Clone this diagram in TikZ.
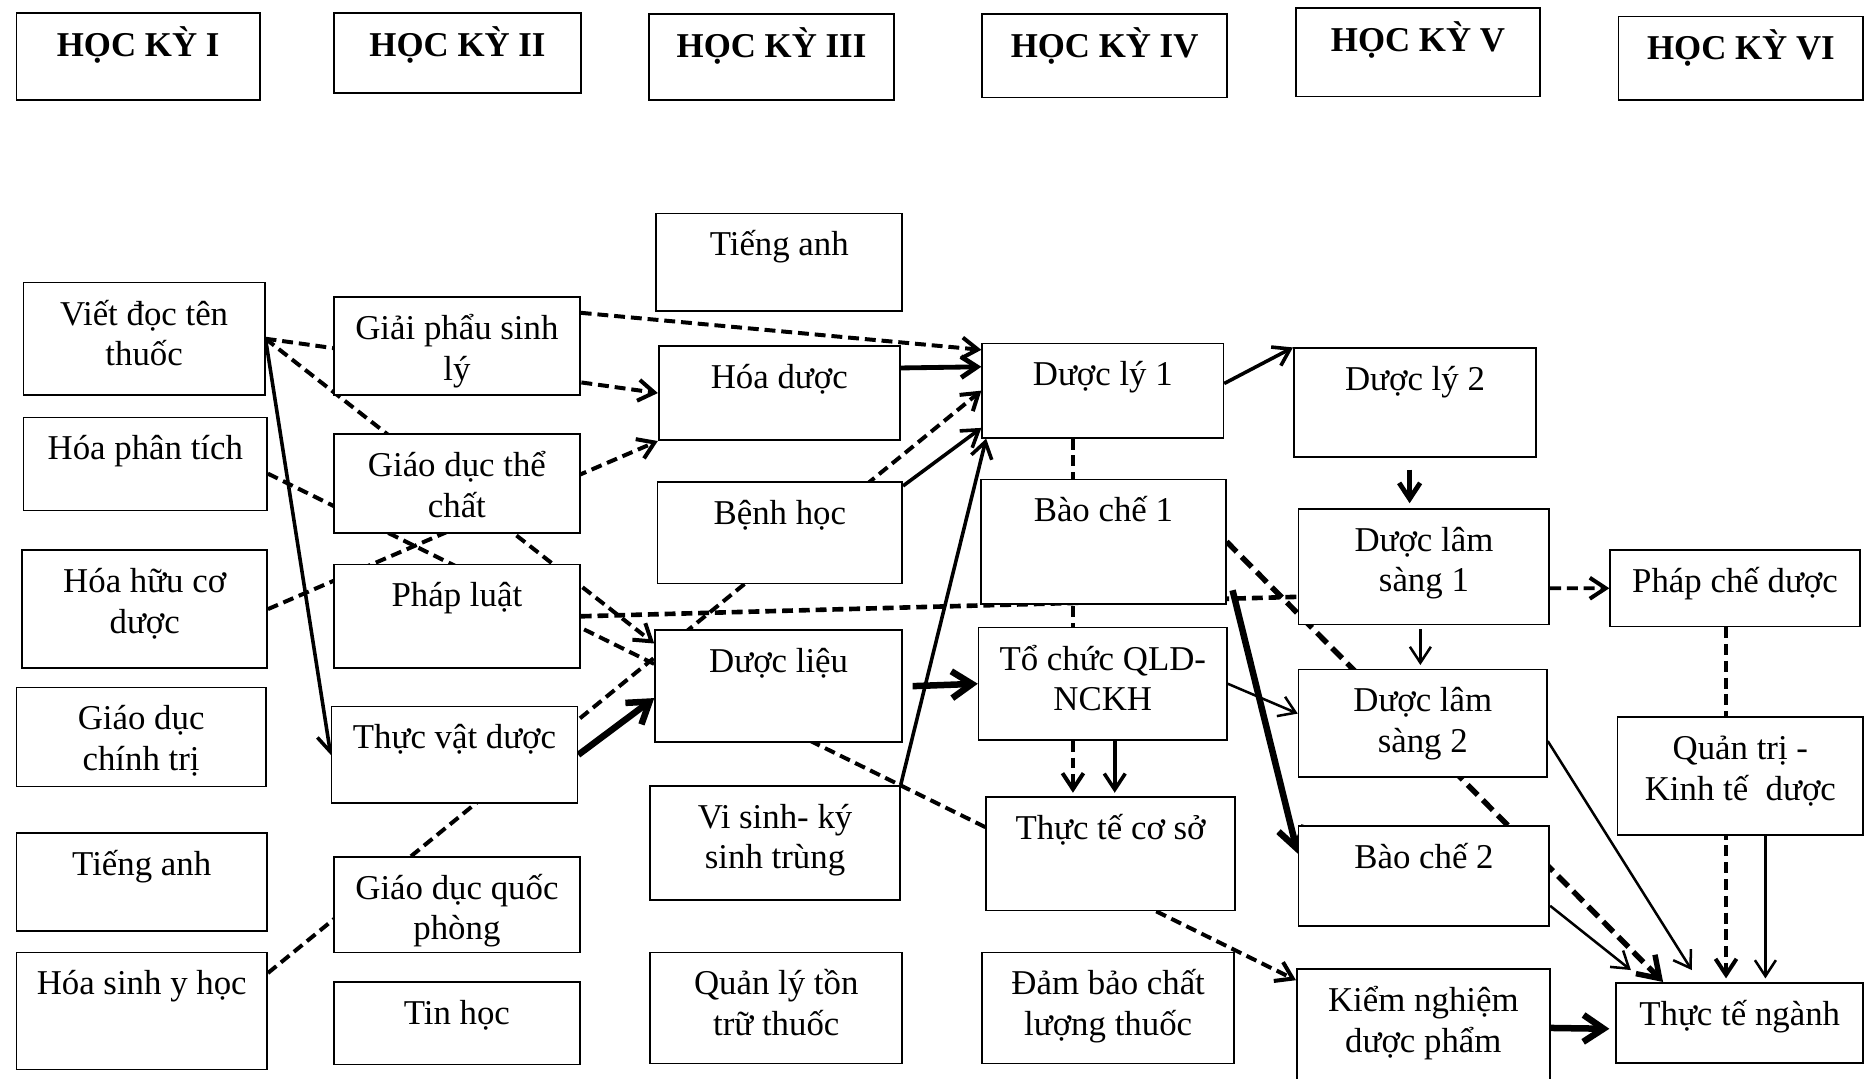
\documentclass[tikz,border=0pt]{standalone}
\usepackage{fontspec}
\setmainfont{Liberation Serif}
\usetikzlibrary{arrows.meta,calc,backgrounds}
\setlength{\lineskiplimit}{-9pt}

\begin{document}
\begin{tikzpicture}[
    box/.style={draw, line width=0.4pt, fill=white, anchor=north west, align=center,
        inner sep=0pt, text height=0.355cm, font=\fontsize{8.3}{9.7}\selectfont},
    two/.style={text height=0.696cm},
    head/.style={box, text height=0.365cm, font=\fontsize{8.3}{9.7}\selectfont\bfseries},
    dsh/.style={line width=0.95pt, dash pattern=on 2.6pt off 1.4pt},
    dshthk/.style={line width=1.3pt, dash pattern=on 3.4pt off 1.7pt},
    thn/.style={line width=0.6pt},
    sld/.style={line width=0.85pt},
    med/.style={line width=1.15pt},
    thk/.style={line width=1.55pt},
    arr/.style={-{Straight Barb[length=3.8pt,width=5pt]}},
    bigarr/.style={-{Straight Barb[length=4.8pt,width=6.4pt]}},
]
\useasboundingbox (0,0) rectangle (15.68,-9.03);

% Semester headers
\node[head, minimum width=2.04cm, text depth=0.365cm] (hk1) at (0.13,-0.10) {HỌC KỲ I};
\node[head, minimum width=2.07cm, text depth=0.305cm] (hk2) at (2.79,-0.10) {HỌC KỲ II};
\node[head, minimum width=2.05cm, text depth=0.355cm] (hk3) at (5.43,-0.11) {HỌC KỲ III};
\node[head, minimum width=2.05cm, text depth=0.335cm] (hk4) at (8.22,-0.11) {HỌC KỲ IV};
\node[head, minimum width=2.04cm, text depth=0.375cm] (hk5) at (10.85,-0.06) {HỌC KỲ V};
\node[head, minimum width=2.05cm, text depth=0.335cm] (hk6) at (13.55,-0.13) {HỌC KỲ VI};

% Semester I
\node[box, two, minimum width=2.02cm, text depth=0.244cm] (vdt) at (0.19,-2.36) {Viết đọc tên\\thuốc};
\node[box, minimum width=2.04cm, text depth=0.425cm] (hpt) at (0.19,-3.49) {Hóa phân tích};
\node[box, two, minimum width=2.05cm, text depth=0.294cm] (hhc) at (0.18,-4.60) {Hóa hữu cơ\\dược};
\node[box, two, minimum width=2.09cm, text depth=0.134cm] (gdct) at (0.13,-5.75) {Giáo dục\\chính trị};
\node[box, minimum width=2.10cm, text depth=0.465cm] (ta1) at (0.13,-6.97) {Tiếng anh};
\node[box, minimum width=2.10cm, text depth=0.625cm] (hsyh) at (0.13,-7.97) {Hóa sinh y học};

% Semester II
\node[box, two, minimum width=2.06cm, text depth=0.124cm] (gpsl) at (2.79,-2.48) {Giải phẩu sinh\\lý};
\node[box, two, minimum width=2.06cm, text depth=0.134cm] (gdtc) at (2.79,-3.63) {Giáo dục thể\\chất};
\node[box, minimum width=2.06cm, text depth=0.515cm] (pl) at (2.79,-4.72) {Pháp luật};
\node[box, minimum width=2.06cm, text depth=0.455cm] (tvd) at (2.77,-5.91) {Thực vật dược};
\node[box, two, minimum width=2.06cm, text depth=0.104cm] (gdqp) at (2.79,-7.17) {Giáo dục quốc\\phòng};
\node[box, minimum width=2.06cm, text depth=0.335cm] (tin) at (2.79,-8.22) {Tin học};

% Semester III
\node[box, minimum width=2.06cm, text depth=0.465cm] (ta3) at (5.49,-1.78) {Tiếng anh};
\node[box, minimum width=2.02cm, text depth=0.435cm] (hd) at (5.51,-2.89) {Hóa dược};
\node[box, minimum width=2.05cm, text depth=0.495cm] (bh) at (5.50,-4.03) {Bệnh học};
\node[box, minimum width=2.07cm, text depth=0.585cm] (dl) at (5.48,-5.27) {Dược liệu};
\node[box, two, minimum width=2.09cm, text depth=0.259cm] (vs) at (5.44,-6.575) {Vi sinh- ký\\sinh trùng};
\node[box, two, minimum width=2.11cm, text depth=0.234cm] (ql) at (5.44,-7.97) {Quản lý tồn\\trữ thuốc};

% Semester IV
\node[box, minimum width=2.02cm, text depth=0.435cm] (dl1) at (8.22,-2.87) {Dược lý 1};
\node[box, minimum width=2.05cm, text depth=0.685cm] (bc1) at (8.21,-4.01) {Bào chế 1};
\node[box, two, minimum width=2.08cm, text depth=0.244cm] (tc) at (8.19,-5.25) {Tổ chức QLD-\\NCKH};
\node[box, minimum width=2.09cm, text depth=0.595cm] (ttcs) at (8.25,-6.67) {Thực tế cơ sở};
\node[box, two, minimum width=2.11cm, text depth=0.234cm] (db) at (8.22,-7.97) {Đảm bảo chất\\lượng thuốc};

% Semester V
\node[box, minimum width=2.03cm, text depth=0.555cm] (dl2) at (10.83,-2.91) {Dược lý 2};
\node[box, two, minimum width=2.10cm, text depth=0.274cm] (dls1) at (10.87,-4.255) {Dược lâm\\sàng 1};
\node[box, two, minimum width=2.08cm, text depth=0.204cm] (dls2) at (10.87,-5.60) {Dược lâm\\sàng 2};
\node[box, minimum width=2.10cm, text depth=0.485cm] (bc2) at (10.87,-6.91) {Bào chế 2};
\node[box, two, minimum width=2.12cm, text depth=0.304cm] (kn) at (10.855,-8.11) {Kiểm nghiệm\\dược phẩm};

% Semester VI
\node[box, minimum width=2.09cm, text depth=0.285cm] (pcd) at (13.48,-4.60) {Pháp chế dược};
\node[box, two, minimum width=2.06cm, text depth=0.289cm] (qt) at (13.54,-6.00) {Quản trị -\\Kinh tế~ dược};
\node[box, minimum width=2.07cm, text depth=0.315cm] (ttn) at (13.53,-8.225) {Thực tế ngành};

\begin{scope}[on background layer]
% from semester I
\draw[dsh, arr] (vdt.east) -- (hd.west);
\draw[dsh, arr] (vdt.east) -- ([yshift=-0.12cm]dl.north west);
\draw[sld, arr] (vdt.east) -- (tvd.west);
\draw[dsh, arr] ([yshift=-0.08cm]hpt.east) -- ([yshift=-0.1cm]kn.north west);
\draw[dsh, arr] (hhc.east) -- (hd.south west);
\draw[dsh, arr] ([yshift=-0.18cm]hsyh.north east) -- (dl1.west);
% from semester II
\draw[dsh, arr] ([yshift=-0.14cm]gpsl.north east) -- ([yshift=-0.06cm]dl1.north west);
\draw[dsh, line width=1.1pt] (pl.east) -- ([yshift=0.24cm]dls1.south west);
\draw[thk, bigarr] (tvd.east) -- ([yshift=-0.1cm]dl.west);
% from semester III
\draw[med, arr] ([yshift=0.21cm]hd.east) -- ([yshift=0.2cm]dl1.west);
\draw[sld, arr] ([yshift=-0.04cm]bh.north east) -- ([yshift=0.09cm]dl1.south west);
\draw[sld, arr] (vs.north east) -- ([xshift=0.04cm]dl1.south west);
\draw[thk, bigarr] ([xshift=0.08cm]dl.east) -- (tc.west);
% from semester IV
\draw[dsh, arr] ($(dl1.south)+(-0.25,0)$) -- ($(dl1.south |- ttcs.north)+(-0.25,0.03)$);
\draw[sld, arr] ($(tc.south)+(0.1,0)$) -- ($(tc.south |- ttcs.north)+(0.1,0.03)$);
\draw[sld, arr] ([yshift=0.06cm]dl1.east) -- (dl2.north west);
\draw[thn, arr] (tc.east) -- ([yshift=0.08cm]dls2.west);
\draw[thk, bigarr] ([xshift=0.05cm,yshift=0.12cm]bc1.south east) -- ([yshift=-0.24cm]bc2.north west);
\draw[dshthk, bigarr] (bc1.east) -- ([xshift=0.4cm]ttn.north west);
% from semester V
\draw[med, arr] ($(dl2.south)+(-0.045,-0.1)$) -- ($(dl2.south |- dls1.north)+(-0.045,0.04)$);
\draw[thn, arr] ($(dls1.south)+(-0.03,-0.03)$) -- ($(dls1.south |- dls2.north)+(-0.03,0.03)$);
\draw[dsh, arr] ([yshift=-0.18cm]dls1.east) -- (pcd.west);
\draw[thn, arr] ([yshift=-0.15cm]dls2.east) -- ([xshift=0.64cm,yshift=0.1cm]ttn.north west);
\draw[thn, arr] ([yshift=-0.25cm]bc2.east) -- ([xshift=0.13cm,yshift=0.1cm]ttn.north west);
\draw[thk, bigarr] ([yshift=-0.5cm]kn.north east) -- ([xshift=-0.05cm,yshift=-0.05cm]ttn.west);
% from semester VI
\draw[dsh, arr] ($(pcd.south)+(-0.075,0)$) -- ($(pcd.south |- ttn.north)+(-0.075,0.03)$);
\draw[thn, arr] ($(qt.south)+(0.21,0)$) -- ($(qt.south |- ttn.north)+(0.21,0.03)$);
\end{scope}
\end{tikzpicture}
\end{document}
